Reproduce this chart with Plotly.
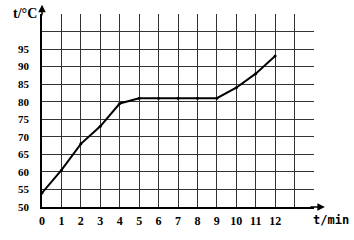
import plotly.graph_objects as go

time_min = [0, 1, 2, 3, 4, 5, 6, 7, 8, 9, 10, 11, 12]
temp_c = [54, 60.5, 68, 73, 79.5, 81, 81, 81, 81, 81, 84, 88, 93]
x_ticks = list(range(0, 13))
y_ticks = [50, 55, 60, 65, 70, 75, 80, 85, 90, 95]

font_family = "Liberation Serif"

fig = go.Figure()
fig.add_trace(go.Scatter(
    x=time_min, y=temp_c, mode="lines+markers",
    line=dict(color="black", width=2),
    marker=dict(color="black", size=3),
    cliponaxis=False,
))

fig.update_layout(
    width=354, height=240,
    margin=dict(l=41.5, r=40, t=14, b=19.3),
    paper_bgcolor="white", plot_bgcolor="white",
    showlegend=False,
    font=dict(family=font_family, size=12, color="black"),
    xaxis=dict(
        range=[0, 14], tickvals=x_ticks, ticktext=[str(v) for v in x_ticks],
        showgrid=True, gridcolor="#333", gridwidth=1,
        minor=dict(dtick=1, tick0=0, showgrid=True, gridcolor="#333", gridwidth=1),
        showline=True, linecolor="black", linewidth=1.5,
        ticks="outside", ticklen=2, tickcolor="white",
        tickfont=dict(family=font_family, size=12, color="black", weight="bold"),
        zeroline=False, fixedrange=True,
    ),
    yaxis=dict(
        range=[50, 105], tickvals=y_ticks, ticktext=[str(v) for v in y_ticks],
        showgrid=True, gridcolor="#333", gridwidth=1,
        minor=dict(dtick=5, tick0=50, showgrid=True, gridcolor="#333", gridwidth=1),
        showline=True, linecolor="black", linewidth=1.5,
        ticks="outside", ticklen=9, tickcolor="white",
        tickfont=dict(family=font_family, size=11, color="black", weight="bold"),
        zeroline=False, fixedrange=True,
    ),
    annotations=[
        dict(text="t/°C", xref="paper", yref="paper", x=0, y=1.0,
             xanchor="right", yanchor="bottom", xshift=-3, yshift=-9, showarrow=False,
             font=dict(family=font_family, size=14, color="black", weight="bold")),
        dict(text="", xref="paper", yref="paper", x=0, y=1.048,
             showarrow=True, ax=0, ay=12, arrowhead=2, arrowsize=1, arrowwidth=1.5,
             arrowcolor="black"),
        dict(text="", xref="paper", yref="paper", x=1.04, y=0.0,
             showarrow=True, ax=-16, ay=0, arrowhead=2, arrowsize=1, arrowwidth=1.5,
             arrowcolor="black"),
        dict(text="t/min", xref="paper", yref="paper", x=1.0, y=0,
             xanchor="left", yanchor="top", xshift=-3, yshift=-4, showarrow=False,
             font=dict(family="DejaVu Sans Mono", size=12, color="black", weight="bold")),
    ],
)

fig.write_html("out.html")
